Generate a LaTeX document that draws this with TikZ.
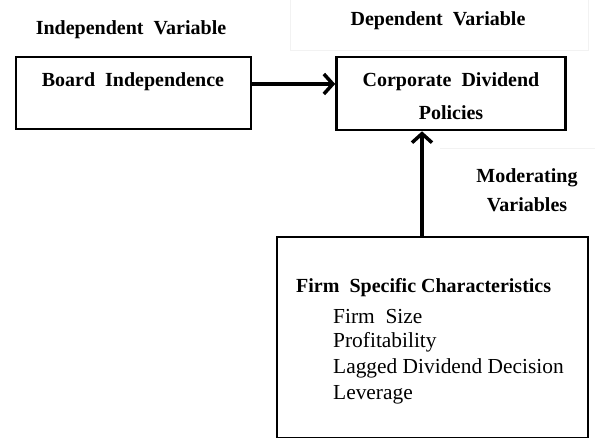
\documentclass[tikz,border=0pt]{standalone}
\usepackage{fontspec}
\setmainfont{Liberation Serif}
\usetikzlibrary{arrows.meta}
\begin{document}
\begin{tikzpicture}[x=1pt,y=-1pt,
  box/.style={draw=black,line width=2.6pt},
  conn/.style={line width=4pt,-{Straight Barb[length=9pt,width=20pt,line width=3.5pt]}},
  head/.style={font=\fontsize{20}{24}\selectfont\bfseries,inner sep=0pt},
  btext/.style={font=\fontsize{20}{30}\selectfont\bfseries,inner sep=0pt,align=center},
  item/.style={font=\fontsize{21.4}{24}\selectfont,inner sep=0pt,anchor=west}]
\useasboundingbox (0,0) rectangle (595,438);
\draw[black!5,line width=0.8pt] (290,-2) -- (290,50) -- (588,50) -- (588,-2);
\draw[black!5,line width=0.8pt] (440,148) -- (595,148);
% boxes
\node[box,minimum width=235pt,minimum height=72pt,inner sep=0pt] (bi) at (133.5,93) {};
\node[box,minimum width=229pt,minimum height=73pt,inner sep=0pt] (cdp) at (451,93.5) {};
\node[box,minimum width=311pt,minimum height=201pt,inner sep=0pt] (fsc) at (432.5,337.5) {};
% texts
\node[head] (iv) at (131,30) {Independent\ \ Variable};
\node[head] (dv) at (438,21) {Dependent\ \ Variable};
\node[btext] (bit) at (133,82) {Board\ \ Independence};
\node[btext] (cdt) at (451,82) {Corporate\ \ Dividend};
\node[btext] (cdt2) at (451,113) {Policies};
\node[btext] (mv) at (527,178) {Moderating};
\node[btext] (mv2) at (527,205) {Variables};
\node[btext,anchor=west] (fst) at (296,288) {Firm\ \ Specific Characteristics};
\node[item] (i1) at (333,317) {Firm\ \ Size};
\node[item] (i2) at (333,342) {Profitability};
\node[item] (i3) at (333,368) {Lagged Dividend Decision};
\node[item] (i4) at (333,395) {Leverage};
% connectors
\draw[conn] (bi.east |- 0,84) -- (cdp.west |- 0,84);
\draw[conn] (fsc.north -| 422,0) -- (cdp.south -| 422,0);
\end{tikzpicture}
\end{document}
